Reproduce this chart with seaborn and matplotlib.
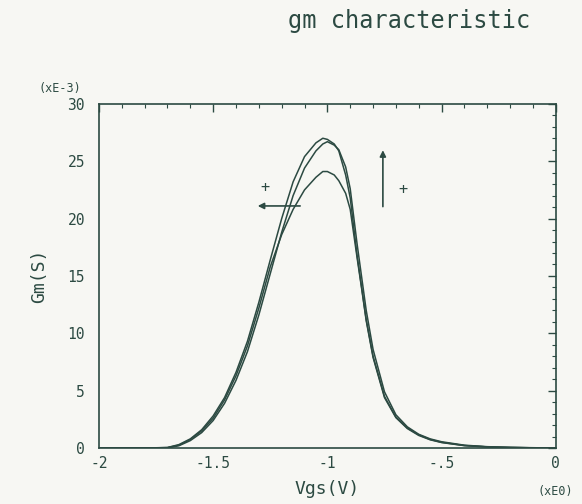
import numpy as np
import pandas as pd
import matplotlib
matplotlib.use("Agg")
import matplotlib.pyplot as plt
import seaborn as sns

# ---- data ----
vgs = [-2.0, -1.8, -1.7, -1.65, -1.6, -1.55, -1.5, -1.45, -1.4, -1.35, -1.3, -1.25,
       -1.2, -1.15, -1.1, -1.05, -1.02, -1.0, -0.97, -0.95, -0.92, -0.9, -0.87, -0.85,
       -0.83, -0.8, -0.75, -0.7, -0.65, -0.6, -0.55, -0.5, -0.4, -0.3, -0.2, -0.1, 0.0]
gm_a = [0, 0, 0.05, 0.3, 0.8, 1.6, 2.8, 4.4, 6.6, 9.3, 12.7, 16.4,
        20.0, 23.2, 25.4, 26.6, 27.0, 26.9, 26.5, 25.9, 23.8, 21.8, 16.8, 14.0,
        11.2, 8.0, 4.5, 2.7, 1.75, 1.15, 0.75, 0.5, 0.22, 0.1, 0.05, 0.02, 0]
gm_b = [0, 0, 0.02, 0.2, 0.65, 1.35, 2.4, 3.9, 5.9, 8.4, 11.6, 15.2,
        18.8, 22.0, 24.4, 25.9, 26.5, 26.7, 26.4, 26.0, 24.5, 22.6, 17.8, 14.9,
        12.0, 8.6, 4.9, 2.9, 1.85, 1.2, 0.8, 0.55, 0.25, 0.12, 0.06, 0.03, 0]
gm_c = [0, 0, 0.04, 0.25, 0.75, 1.5, 2.6, 4.2, 6.3, 8.9, 12.2, 15.8,
        18.6, 20.8, 22.5, 23.6, 24.1, 24.1, 23.8, 23.3, 22.2, 20.8, 16.6, 13.9,
        11.1, 7.9, 4.4, 2.65, 1.7, 1.1, 0.72, 0.48, 0.21, 0.1, 0.05, 0.02, 0]
series_names = ["A", "B", "C"]

x_ticks = [-2, -1.5, -1, -0.5, 0]
x_labels = ["-2", "-1.5", "-1", "-.5", "0"]
y_ticks = [0, 5, 10, 15, 20, 25, 30]
y_labels = ["0", "5", "10", "15", "20", "25", "30"]

ink = "#2c4a42"
paper = "#f7f7f3"

df = pd.concat([
    pd.DataFrame({"Vgs": vgs, "Gm": g, "curve": n})
    for n, g in zip(series_names, [gm_a, gm_b, gm_c])
], ignore_index=True)

sns.set_theme(style="white")
plt.rcParams["font.family"] = ["DejaVu Sans Mono", "DejaVu Sans"]

fig = plt.figure(figsize=(5.82, 5.04), dpi=100, facecolor=paper)
ax = fig.add_axes([0.170, 0.111, 0.785, 0.683])
ax.set_facecolor(paper)

sns.lineplot(data=df, x="Vgs", y="Gm", hue="curve", units="curve",
             estimator=None, sort=False,
             palette=[ink, ink, ink], linewidth=1.1, legend=False, ax=ax)

ax.set_xlim(-2, 0)
ax.set_ylim(0, 30)
ax.set_xticks(x_ticks)
ax.set_xticklabels(x_labels)
ax.set_yticks(y_ticks)
ax.set_yticklabels(y_labels)
ax.set_xticks(np.arange(-2, 0.001, 0.1), minor=True)
ax.set_yticks(np.arange(0, 30.001, 1), minor=True)
ax.tick_params(which="both", direction="in", top=True, right=True, color=ink,
               labelcolor=ink)
ax.tick_params(which="major", length=6, width=1, labelsize=10.5, pad=6)
ax.tick_params(which="minor", length=3, width=0.8)
ax.tick_params(axis="y", which="major", pad=10)
for s in ax.spines.values():
    s.set_color(ink)
    s.set_linewidth(1.2)

ax.set_xlabel("Vgs(V)", fontsize=13, color=ink, labelpad=6)
ax.set_ylabel("Gm(S)", fontsize=13, color=ink, labelpad=14)

# scale annotations
ax.text(1.0, -0.125, "(xE0)", transform=ax.transAxes, ha="center", va="center",
        fontsize=8.5, color=ink)
ax.text(-0.085, 1.045, "(xE-3)", transform=ax.transAxes, ha="center", va="center",
        fontsize=8.5, color=ink)

# arrows and plus signs
ax.annotate("", xy=(-1.317, 21.1), xytext=(-1.107, 21.1),
            arrowprops=dict(arrowstyle="-|>", color=ink, lw=1.2, mutation_scale=9))
ax.annotate("", xy=(-0.757, 26.2), xytext=(-0.757, 20.8),
            arrowprops=dict(arrowstyle="-|>", color=ink, lw=1.2, mutation_scale=9))
ax.text(-1.274, 22.7, "+", ha="center", va="center", fontsize=11, color=ink)
ax.text(-0.670, 22.5, "+", ha="center", va="center", fontsize=11, color=ink)

fig.text(0.703, 0.958, "gm characteristic", ha="center", va="center",
         fontsize=17, color=ink)

fig.savefig("out.png", dpi=100, facecolor=paper)
